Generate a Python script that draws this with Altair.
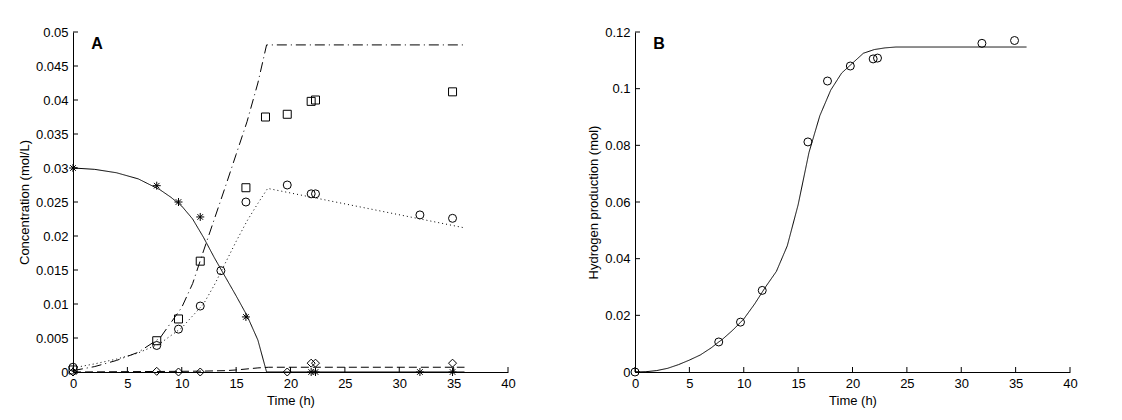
import altair as alt
import pandas as pd

# ---------------- Panel A: measured data ----------------
t_star = [0, 7.7, 9.7, 11.7, 15.9, 21.9, 22.3, 31.9, 34.9]
v_star = [0.0300, 0.0274, 0.0250, 0.0228, 0.0081, 0.0, 0.0, 0.0, 0.0]

t_square = [0, 7.7, 9.7, 11.7, 15.9, 17.7, 19.7, 21.9, 22.3, 34.9]
v_square = [0.0003, 0.0046, 0.0078, 0.0163, 0.0271, 0.0375, 0.0379, 0.0398, 0.0400, 0.0412]

t_circle = [0, 7.7, 9.7, 11.7, 13.6, 15.9, 19.7, 21.9, 22.3, 31.9, 34.9]
v_circle = [0.0007, 0.0039, 0.0063, 0.0097, 0.0149, 0.0250, 0.0275, 0.0262, 0.0262, 0.0231, 0.0226]

t_diamond = [0, 7.7, 9.7, 11.7, 19.7, 21.9, 22.3, 34.9]
v_diamond = [0.0, 0.0001, 0.0, 0.0, 0.0, 0.0013, 0.0013, 0.0013]

# ---------------- Panel A: model curves ----------------
t_solid = [0, 2, 4, 6, 8, 9, 10, 11, 12, 13, 14, 15, 16, 17, 17.8, 36]
v_solid = [0.0300, 0.0298, 0.0293, 0.0284, 0.0268, 0.0257, 0.0244, 0.0225, 0.0198,
           0.0168, 0.0140, 0.0112, 0.0083, 0.0047, 0.0, 0.0]

t_dashdot = [0, 2, 4, 6, 8, 10, 11, 12, 13, 14, 15, 16, 17, 17.8, 36]
v_dashdot = [0.0002, 0.0008, 0.0017, 0.0029, 0.0050, 0.0095, 0.0130, 0.0178, 0.0225,
             0.0272, 0.0320, 0.0368, 0.0425, 0.0481, 0.0481]

t_dotted = [0, 2, 4, 6, 8, 10, 12, 13, 14, 15, 16, 17, 17.9, 36]
v_dotted = [0.0006, 0.0012, 0.0019, 0.0028, 0.0042, 0.0065, 0.0100, 0.0128, 0.0160,
            0.0192, 0.0222, 0.0248, 0.0270, 0.0212]

t_dashed = [0, 5, 10, 12, 14, 15, 16, 17, 18, 36]
v_dashed = [0.0, 0.00005, 0.0001, 0.00013, 0.0002, 0.0003, 0.00045, 0.0006, 0.0007, 0.0007]

# ---------------- Panel B ----------------
t_h2 = [0, 7.7, 9.7, 11.7, 15.9, 17.7, 19.8, 21.9, 22.3, 31.9, 34.9]
v_h2 = [0.0, 0.0106, 0.0176, 0.0288, 0.0812, 0.1027, 0.1080, 0.1105, 0.1108, 0.1160, 0.1170]

t_h2_fit = [0, 1, 2, 3, 4, 5, 6, 7, 7.7, 8, 9, 10, 11, 12, 13, 14, 15, 16, 17, 18,
            19, 20, 21, 22, 23, 24, 36]
v_h2_fit = [0.0, 0.0001, 0.0005, 0.0013, 0.0026, 0.0042, 0.0060, 0.0085, 0.0106, 0.0114,
            0.0148, 0.0187, 0.0240, 0.0300, 0.0355, 0.0445, 0.0590, 0.0775, 0.0905, 0.0995,
            0.1055, 0.1090, 0.1125, 0.1138, 0.1144, 0.1147, 0.1147]

# ---------------- Axis ticks ----------------
x_ticks = [0, 5, 10, 15, 20, 25, 30, 35, 40]
y_ticks_a = [0, 0.005, 0.01, 0.015, 0.02, 0.025, 0.03, 0.035, 0.04, 0.045, 0.05]
y_ticks_b = [0, 0.02, 0.04, 0.06, 0.08, 0.1, 0.12]

FONT = "Liberation Sans"
W, H = 435, 340
STAR = "M-1,0L1,0M0,-1L0,1M-0.7,-0.7L0.7,0.7M-0.7,0.7L0.7,-0.7"


def df(t, v):
    return pd.DataFrame({"t": t, "v": v})


def panel(lines, points, yticks, ymax, ytitle, letter, letter_pos):
    xs = alt.Scale(domain=[0, 40], nice=False, zero=False)
    ys = alt.Scale(domain=[0, ymax], nice=False, zero=False)
    common = dict(ticks=False, tickSize=0, grid=False, domainColor="black", domainWidth=1,
                  labelColor="black", labelFont=FONT, labelFontSize=13, labelPadding=5,
                  titleFont=FONT, titleFontSize=13, titleFontWeight="normal",
                  titleColor="black", titlePadding=4, labelFlush=False)
    xaxis = alt.Axis(values=x_ticks, format=".3~f", title="Time (h)", **common)
    yaxis = alt.Axis(values=yticks, format=".3~f", title=ytitle, **common)
    X = alt.X("t:Q", scale=xs, axis=xaxis)
    Y = alt.Y("v:Q", scale=ys, axis=yaxis)
    layers = []
    for (t, v, dash) in lines:
        m = alt.Chart(df(t, v)).mark_line(color="black", strokeWidth=1,
                                          strokeDash=dash if dash else [1, 0])
        layers.append(m.encode(x=X, y=Y))
    for (t, v, shape) in points:
        m = alt.Chart(df(t, v)).mark_point(shape=shape, filled=False, color="black",
                                           size=64, strokeWidth=1, opacity=1)
        layers.append(m.encode(x=X, y=Y))
    # inward ticks (MATLAB style)
    layers.append(alt.Chart(pd.DataFrame({"t": x_ticks})).mark_rule(color="black", strokeWidth=1)
                  .encode(x=X, y=alt.value(H), y2=alt.value(H - 5)))
    layers.append(alt.Chart(pd.DataFrame({"v": yticks})).mark_rule(color="black", strokeWidth=1)
                  .encode(y=Y, x=alt.value(0), x2=alt.value(5)))
    layers.append(alt.Chart(pd.DataFrame({"t": [letter_pos[0]], "v": [letter_pos[1]],
                                          "lab": [letter]}))
                  .mark_text(font=FONT, fontSize=16, fontWeight="bold", color="black",
                             align="center", baseline="middle")
                  .encode(x=X, y=Y, text="lab:N"))
    return alt.layer(*layers).properties(width=W, height=H)


panel_a = panel(
    lines=[(t_solid, v_solid, None), (t_dashdot, v_dashdot, [10, 4, 1, 4]),
           (t_dotted, v_dotted, [1, 3]), (t_dashed, v_dashed, [8, 4])],
    points=[(t_star, v_star, STAR), (t_square, v_square, "square"),
            (t_circle, v_circle, "circle"), (t_diamond, v_diamond, "diamond")],
    yticks=y_ticks_a, ymax=0.05, ytitle="Concentration (mol/L)",
    letter="A", letter_pos=(2.2, 0.0482))

panel_b = panel(
    lines=[(t_h2_fit, v_h2_fit, None)],
    points=[(t_h2, v_h2, "circle")],
    yticks=y_ticks_b, ymax=0.12, ytitle="Hydrogen production (mol)",
    letter="B", letter_pos=(2.2, 0.1157))

chart = alt.hconcat(panel_a, panel_b, spacing=71).properties(
    padding={"left": 10, "top": 18, "right": 5, "bottom": 5},
    background="white",
).configure_view(stroke=None)

chart.save("out.html", embed_options={"renderer": "svg", "actions": False})
